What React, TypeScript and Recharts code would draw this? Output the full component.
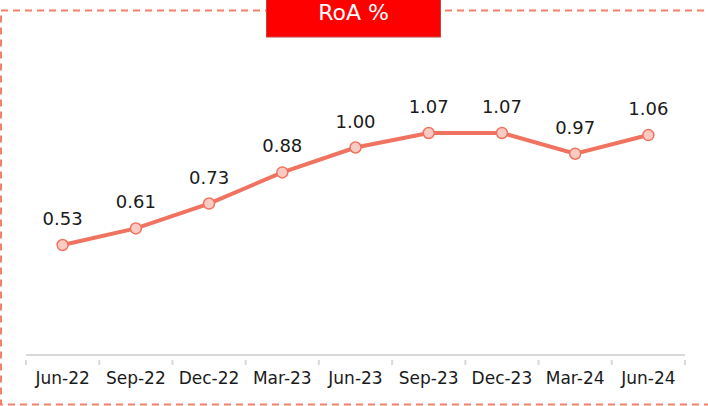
import { LabelList, Line, LineChart, XAxis, YAxis } from "recharts";

const QUARTERS = ["Jun-22", "Sep-22", "Dec-22", "Mar-23", "Jun-23", "Sep-23", "Dec-23", "Mar-24", "Jun-24"];
const ROA = [0.53, 0.61, 0.73, 0.88, 1.0, 1.07, 1.07, 0.97, 1.06];

const FONT = "'DejaVu Sans', sans-serif";
const LINE_COLOR = "#EF7360";
const FRAME_COLOR = "#F4806C";
const AXIS_COLOR = "#D9D9D9";

const data = QUARTERS.map((quarter, i) => ({ quarter, roa: ROA[i] }));

/* Excel-style category axis: tick marks sit on the band edges, labels in the middle. */
function QuarterTick(props: any) {
  const { x, y, payload, index, visibleTicksCount } = props;
  const half = payload.offset ?? 0;
  const top = y - 12;
  return (
    <g>
      <line x1={x - half} x2={x - half} y1={top} y2={top + 5} stroke={AXIS_COLOR} strokeWidth={2} />
      {index === visibleTicksCount - 1 && (
        <line x1={x + half} x2={x + half} y1={top} y2={top + 5} stroke={AXIS_COLOR} strokeWidth={2} />
      )}
      <text x={x} y={y} dy="0.71em" textAnchor="middle" fill="#1a1a1a" fontSize={17} fontFamily={FONT}>
        {payload.value}
      </text>
    </g>
  );
}

export default function App() {
  return (
    <div style={{ position: "absolute", left: 0, top: 0, width: 708, height: 406, overflow: "hidden", background: "#fff" }}>
      <LineChart width={708} height={406} data={data} margin={{ top: 106, right: 23, bottom: 21, left: 26 }}>
        <XAxis
          dataKey="quarter"
          scale="band"
          height={30}
          interval={0}
          stroke={AXIS_COLOR}
          strokeWidth={2}
          tickLine={false}
          tickSize={5}
          tickMargin={12}
          tick={<QuarterTick />}
        />
        <YAxis hide domain={[0, 1.2]} />
        <Line
          dataKey="roa"
          stroke={LINE_COLOR}
          strokeWidth={4}
          dot={{ r: 5.5, fill: "#F9CBC3", stroke: LINE_COLOR, strokeWidth: 1.5 }}
          isAnimationActive={false}
        >
          <LabelList
            dataKey="roa"
            position="top"
            offset={20}
            formatter={(v: number) => v.toFixed(2)}
            style={{ fill: "#1a1a1a", fontSize: 18, fontFamily: FONT }}
          />
        </Line>
      </LineChart>
      {/* dashed frame and the red title tab sit on top of the chart */}
      <svg width={708} height={406} style={{ position: "absolute", left: 0, top: 0, pointerEvents: "none" }}>
        <rect x={1} y={10.5} width={740} height={394} fill="none" stroke={FRAME_COLOR} strokeWidth={2} strokeDasharray="7 5" />
        <rect x={266.5} y={-1} width={174} height={38} fill="#FF0000" stroke="#C84040" strokeWidth={1} />
        <text x={353.5} y={19.5} textAnchor="middle" fill="#fff" fontSize={22} fontFamily={FONT}>
          RoA %
        </text>
      </svg>
    </div>
  );
}
